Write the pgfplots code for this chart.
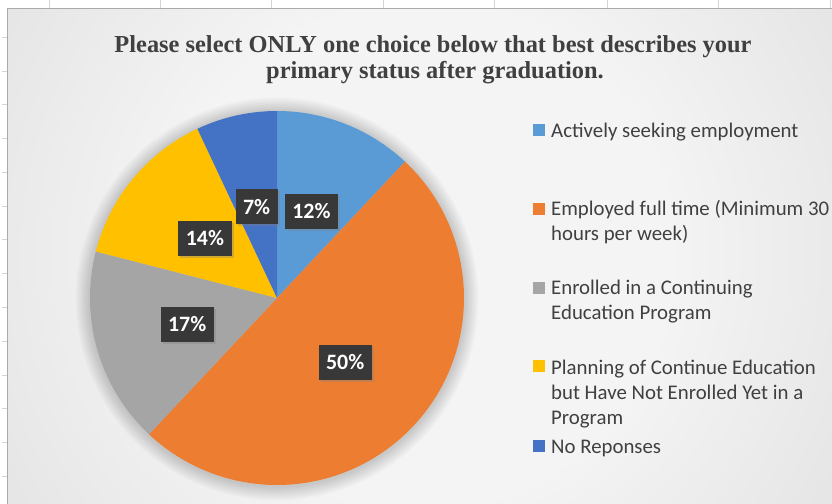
\documentclass[border=0pt]{standalone}
\usepackage{pgfplots}
\pgfplotsset{compat=1.18}
\usepackage{pgfplotstable}
\usetikzlibrary{shadows}
\usepackage{fontspec}
\setmainfont{Carlito}
\newfontfamily\titlefont{Liberation Serif}

\definecolor{sBlue}{HTML}{5B9BD5}
\definecolor{sOrange}{HTML}{ED7D31}
\definecolor{sGray}{HTML}{A5A5A5}
\definecolor{sGold}{HTML}{FFC000}
\definecolor{sNavy}{HTML}{4472C4}
\definecolor{txt}{HTML}{404040}
\definecolor{bgIn}{HTML}{F4F4F4}
\definecolor{bgOut}{HTML}{C2C2C2}
\definecolor{lblBox}{HTML}{383838}
\definecolor{gridc}{HTML}{D4D4D4}

% share of each answer, clockwise from 12 o'clock
\pgfplotstableread{
pct col
12 sBlue
50 sOrange
17 sGray
14 sGold
7  sNavy
}\piedata

\pgfdeclareradialshading{chartbg}{\pgfpoint{0bp}{0bp}}{color(0bp)=(bgIn); color(12bp)=(bgIn); color(50bp)=(bgOut)}

\tikzset{
  lbl/.style={fill=lblBox, text=white, inner xsep=7.5bp, inner ysep=0bp,
    minimum height=35bp, font=\bfseries\fontsize{22}{26}\selectfont,
    drop shadow={opacity=0.35, shadow xshift=2bp, shadow yshift=-2bp}},
  leg/.style={anchor=base west, inner sep=0pt, align=left, text=txt,
    font=\fontsize{20.9}{25.5}\selectfont},
}

\def\cx{277}
\def\cy{206}
\def\rr{187}

\begin{document}
\begin{tikzpicture}
\begin{axis}[
  anchor=origin, at={(0,0)},
  x=1bp, y=1bp,
  xmin=0, xmax=832, ymin=0, ymax=504,
  hide axis, clip=false,
]
% sheet behind the chart
\fill[white] (axis cs:0,0) rectangle (axis cs:832,504);
\pgfplotsinvokeforeach{37,71,104,138,172,206,239,273,307,341,375,408,442,476}{
  \draw[gridc, line width=0.8bp] (axis cs:2,504-#1) -- (axis cs:7,504-#1);
}
\pgfplotsinvokeforeach{49,160,271,383,494,607,718,830}{
  \draw[gridc, line width=0.8bp] (axis cs:#1,504) -- (axis cs:#1,496);
}
% chart area
\begin{scope}
  \clip (axis cs:7.5,0) rectangle (axis cs:832,495.5);
  \shade[shading=chartbg] (axis cs:420,250) circle[radius=520bp];
\end{scope}
\draw[gridc!80!black, line width=1bp] (axis cs:7.5,0) -- (axis cs:7.5,495.5) -- (axis cs:832,495.5);

% soft shadow round the pie
\pgfplotsinvokeforeach{1,...,9}{
  \fill[black, opacity=0.02] (axis cs:\cx,\cy-1) circle[radius=\rr bp+1.6bp*#1];
}

% slices
\pgfplotstablegetrowsof{\piedata}
\pgfmathtruncatemacro{\nrows}{\pgfplotsretval-1}
\def\acc{90}
\pgfplotsforeachungrouped \i in {0,...,\nrows}{
  \pgfplotstablegetelem{\i}{pct}\of\piedata \let\spct\pgfplotsretval
  \pgfplotstablegetelem{\i}{col}\of\piedata \let\scol\pgfplotsretval
  \pgfmathsetmacro{\aend}{\acc-3.6*\spct}
  \edef\cmd{\noexpand\fill[\scol] (axis cs:\cx,\cy) -- ++(\acc:\rr bp)
      arc[start angle=\acc, end angle=\aend, radius=\rr bp] -- cycle;}
  \cmd
  \let\acc\aend
}
% data labels at half radius on each slice's middle angle
\def\acc{90}
\pgfplotsforeachungrouped \i in {0,...,\nrows}{
  \pgfplotstablegetelem{\i}{pct}\of\piedata \let\spct\pgfplotsretval
  \pgfmathsetmacro{\aend}{\acc-3.6*\spct}
  \pgfmathsetmacro{\amid}{(\acc+\aend)/2}
  \pgfmathsetmacro{\lx}{\cx+0.5*\rr*cos(\amid)}
  \pgfmathsetmacro{\ly}{\cy+0.5*\rr*sin(\amid)}
  \edef\cmd{\noexpand\node[lbl] at (axis cs:\lx,\ly) {\spct\noexpand\%};}
  \cmd
  \let\acc\aend
}

% title
\node[text=txt, font=\titlefont\bfseries\fontsize{24.5}{27}\selectfont, anchor=base]
  at (axis cs:433,504-52.5) {Please select ONLY one choice below that best describes your};
\node[text=txt, font=\titlefont\bfseries\fontsize{24.5}{27}\selectfont, anchor=base]
  at (axis cs:435,504-78.5) {primary status after graduation.};

% legend (base anchor sits on the last line of each entry)
\fill[sBlue]   (axis cs:533,504-124) rectangle (axis cs:545,504-136);
\fill[sOrange] (axis cs:533,504-203) rectangle (axis cs:545,504-215);
\fill[sGray]   (axis cs:533,504-282) rectangle (axis cs:545,504-294);
\fill[sGold]   (axis cs:533,504-360) rectangle (axis cs:545,504-372);
\fill[sNavy]   (axis cs:533,504-440) rectangle (axis cs:545,504-452);
\node[leg] at (axis cs:551,504-137) {Actively seeking employment};
\node[leg] at (axis cs:551,504-241) {Employed full time (Minimum 30\\hours per week)};
\node[leg] at (axis cs:551,504-320) {Enrolled in a Continuing\\Education Program};
\node[leg] at (axis cs:551,504-425) {Planning of Continue Education\\but Have Not Enrolled Yet in a\\Program};
\node[leg] at (axis cs:551,504-453) {No Reponses};
\end{axis}
\pgfresetboundingbox
\path[use as bounding box] (0,0) rectangle (832bp,504bp);
\end{tikzpicture}
\end{document}
